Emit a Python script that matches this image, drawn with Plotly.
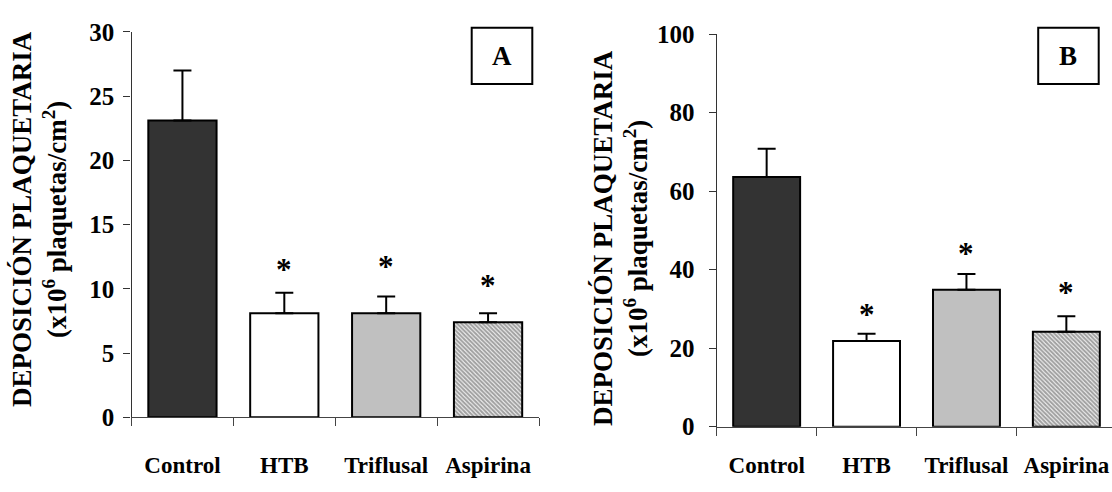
import plotly.graph_objects as go

# Treatment groups
groups = ["Control", "HTB", "Triflusal", "Aspirina"]

# Panel A: platelet deposition (x10^6 platelets/cm^2), mean and SEM
mean_a = [23.1, 8.1, 8.1, 7.4]
sem_a = [3.9, 1.6, 1.3, 0.7]
star_a = [None, 12.0, 12.2, 10.7]

# Panel B
mean_b = [63.6, 21.8, 34.9, 24.2]
sem_b = [7.2, 1.9, 4.0, 3.9]
star_b = [None, 30.0, 45.6, 35.7]

y_ticks_a = [0, 5, 10, 15, 20, 25, 30]
y_ticks_b = [0, 20, 40, 60, 80, 100]

W, H = 1112, 492
SERIF = "Liberation Serif, Times New Roman, serif"

fill_colors = ["#333333", "#ffffff", "#c0c0c0", "#ffffff"]
pattern_shapes = ["", "", "", "\\"]


def px_x(v):
    return v / W


def px_y(v):
    return 1 - v / H


fig = go.Figure()

for idx, (means, sems) in enumerate([(mean_a, sem_a), (mean_b, sem_b)]):
    suffix = "" if idx == 0 else str(idx + 1)
    fig.add_trace(go.Bar(
        x=groups, y=means,
        xaxis="x" + suffix, yaxis="y" + suffix,
        width=0.67,
        marker=dict(
            color=fill_colors,
            line=dict(color="black", width=2),
            pattern=dict(shape=pattern_shapes, size=3, solidity=0.72,
                         fgcolor="#111111", bgcolor="white"),
        ),
        error_y=dict(type="data", symmetric=False, array=sems,
                     arrayminus=[0] * len(sems), color="black",
                     thickness=2, width=9),
        showlegend=False,
        hoverinfo="skip",
    ))

cat_font = dict(family=SERIF, size=23, color="black", weight="bold")
num_font = dict(family=SERIF, size=25, color="black", weight="bold")

common_x = dict(
    type="category", showline=True, linecolor="#444", linewidth=1.3,
    ticks="outside", tickson="boundaries", ticklen=8, tickcolor="#444",
    tickwidth=1.3, tickfont=cat_font, showgrid=False, zeroline=False,
    fixedrange=True,
)
common_y = dict(
    showline=True, linecolor="#333", linewidth=1.3, ticks="outside",
    ticklen=7, tickcolor="#333", tickwidth=1.3, tickfont=num_font,
    showgrid=False, zeroline=False, fixedrange=True,
)

fig.update_layout(
    width=W, height=H,
    margin=dict(l=0, r=0, t=0, b=0),
    paper_bgcolor="white", plot_bgcolor="white",
    xaxis=dict(**common_x, domain=[px_x(131.5), px_x(539)],
               range=[-0.5, 3.5], anchor="y", ticklabelstandoff=27),
    yaxis=dict(**common_y, domain=[px_y(427.7), px_y(20)], range=[0, 30],
               tickvals=y_ticks_a, anchor="x", ticklabelstandoff=4),
    xaxis2=dict(**common_x, domain=[px_x(716.7), 1.0],
                range=[-0.5, -0.5 + (W - 716.7) / 99.9], anchor="y2",
                ticklabelstandoff=18),
    yaxis2=dict(**common_y, domain=[px_y(437.7), px_y(22.3)], range=[0, 100],
                tickvals=y_ticks_b, anchor="x2", ticklabelstandoff=9),
)

annotations = []
title_text = ("DEPOSICIÓN PLAQUETARIA<br>"
              "(x10<sup>6</sup> plaquetas/cm<sup>2</sup>)")
for cx, cy in [(39, 218), (621, 238)]:
    annotations.append(dict(
        text=title_text, xref="paper", yref="paper",
        x=px_x(cx), y=px_y(cy), xanchor="center", yanchor="middle",
        textangle=-90, showarrow=False,
        font=dict(family=SERIF, size=27, color="black", weight="bold"),
    ))

# Significance markers
for suffix, stars in [("", star_a), ("2", star_b)]:
    for g, s in zip(groups, stars):
        if s is None:
            continue
        annotations.append(dict(
            text="*", x=g, y=s, xref="x" + suffix, yref="y" + suffix,
            xanchor="center", yanchor="middle", yshift=-6, showarrow=False,
            font=dict(family=SERIF, size=31, color="black", weight="bold"),
        ))

# Panel letters in framed boxes
shapes = []
for letter, (x0, x1) in [("A", (471.7, 532.3)), ("B", (1038.2, 1098.7))]:
    y0, y1 = 15.7, 75
    shapes.append(dict(type="rect", xref="paper", yref="paper",
                       x0=px_x(x0), x1=px_x(x1), y0=px_y(y1), y1=px_y(y0),
                       line=dict(color="black", width=2),
                       fillcolor="white"))
    annotations.append(dict(
        text=letter, xref="paper", yref="paper",
        x=px_x((x0 + x1) / 2), y=px_y((y0 + y1) / 2),
        xanchor="center", yanchor="middle", showarrow=False,
        font=dict(family=SERIF, size=27, color="black", weight="bold"),
    ))

fig.update_layout(annotations=annotations, shapes=shapes)

fig.write_html("out.html", config={"displayModeBar": False})
